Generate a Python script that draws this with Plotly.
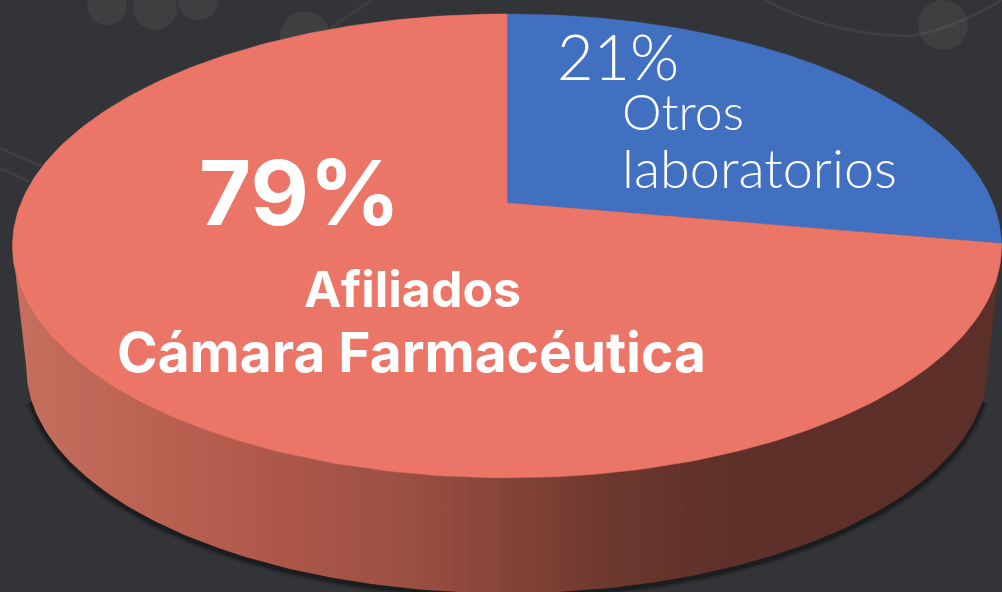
import numpy as np
import plotly.graph_objects as go

# Slice shares (the picture's printed labels say 21 / 79)
categories = ["Otros laboratorios", "Afiliados Cámara Farmacéutica"]
drawn_shares = [27.8, 72.2]
slice_colors = ["#4270C0", "#EB7667"]
percent_labels = ["21%", "79%"]

W, H = 1002, 592
BG = "#333437"
CX, CY = 507, 203      # apex of the slices
A, B, K = 486, 224, 0.185
DROP_CY, DROP_S = 326, 0.972


def disc(theta, cy=CY, s=1.0):
    u, v = np.sin(theta), np.cos(theta)
    w = 1 + K * v
    return CX + s * A * u / w, cy - s * B * v / w


fig = go.Figure()

# faint background decoration
shapes = []
deco = "rgba(255,255,255,0.055)"
for cx_, cy_, r in [(107, 5, 20), (155, 8, 22), (198, 0, 20), (305, 36, 25), (943, 25, 25)]:
    shapes.append(dict(type="circle", x0=cx_ - r, x1=cx_ + r, y0=cy_ - r, y1=cy_ + r,
                       fillcolor=deco, line_width=0, layer="below"))
for path in ["M 330 28 L 372 0", "M 0 148 Q 20 158 42 166", "M 0 168 L 30 182",
             "M 765 0 Q 830 35 910 36 Q 950 30 1002 0"]:
    shapes.append(dict(type="path", path=path, line=dict(color=deco, width=3), layer="below"))

# tangent points of the disc outline: cos(theta) = -K
t0 = np.arccos(-K)
front = np.linspace(t0, 2 * np.pi - t0, 240)
sx, sy = disc(front, DROP_CY, DROP_S)
tx, ty = disc(front)

# soft shadow below the pie's wall (ends tucked behind the wall)
inner = front[12:-12]
shx, shy = disc(inner, DROP_CY, DROP_S)
for width, op in [(12, 0.10), (8, 0.15), (5, 0.25)]:
    fig.add_trace(go.Scatter(x=shx, y=shy + 2, mode="lines", showlegend=False, hoverinfo="skip",
                             line=dict(color=f"rgba(0,0,0,{op})", width=width)))

# wall
fig.add_trace(go.Scatter(
    x=np.r_[tx, sx[::-1]], y=np.r_[ty, sy[::-1]], mode="lines", fill="toself",
    line=dict(width=0), showlegend=False, hoverinfo="skip",
    fillgradient=dict(type="horizontal", colorscale=[
        [0.0, "#C66F5F"], [0.2, "#B65C4E"], [0.4, "#9C4F43"],
        [0.6, "#6E382E"], [0.72, "#5E3029"], [1.0, "#5C2F28"]]),
))

# top face slices, driven by the shares
edges = np.r_[0, np.cumsum(drawn_shares)] / sum(drawn_shares) * 2 * np.pi
for name, color, a0, a1 in zip(categories, slice_colors, edges[:-1], edges[1:]):
    x, y = disc(np.linspace(a0, a1, 240))
    fig.add_trace(go.Scatter(
        x=np.r_[CX, x, CX], y=np.r_[CY, y, CY], mode="lines", fill="toself", name=name,
        fillcolor=color, line=dict(color=color, width=0.5), showlegend=False, hoverinfo="name",
    ))

LIGHT = "Lato"
BOLD = "Inter"
texts = [
    (percent_labels[1], 198, 192, 90, 700, BOLD),
    ("Afiliados", 303, 289, 50, 700, BOLD),
    ("Cámara Farmacéutica", 116, 352, 55, 700, BOLD),
    (percent_labels[0], 556, 55, 63, 300, LIGHT),
    ("Otros", 621, 111, 50, 300, LIGHT),
    ("laboratorios", 621, 167, 54, 300, LIGHT),
]
annotations = [dict(text=t, x=x, y=y, xref="x", yref="y", xanchor="left", yanchor="middle",
                    showarrow=False, borderpad=0,
                    font=dict(family=f, size=s, color="white", weight=wt))
               for t, x, y, s, wt, f in texts]

fig.update_layout(
    width=W, height=H, margin=dict(l=0, r=0, t=0, b=0), autosize=False,
    paper_bgcolor=BG, plot_bgcolor=BG, showlegend=False,
    xaxis=dict(range=[0, W], visible=False, fixedrange=True),
    yaxis=dict(range=[H, 0], visible=False, fixedrange=True),
    shapes=shapes, annotations=annotations,
)
fig.write_html("out.html", config=dict(displayModeBar=False),
               post_script="document.body.style.margin='0';document.body.style.overflow='hidden';"
                           "document.body.style.background='" + BG + "';")
